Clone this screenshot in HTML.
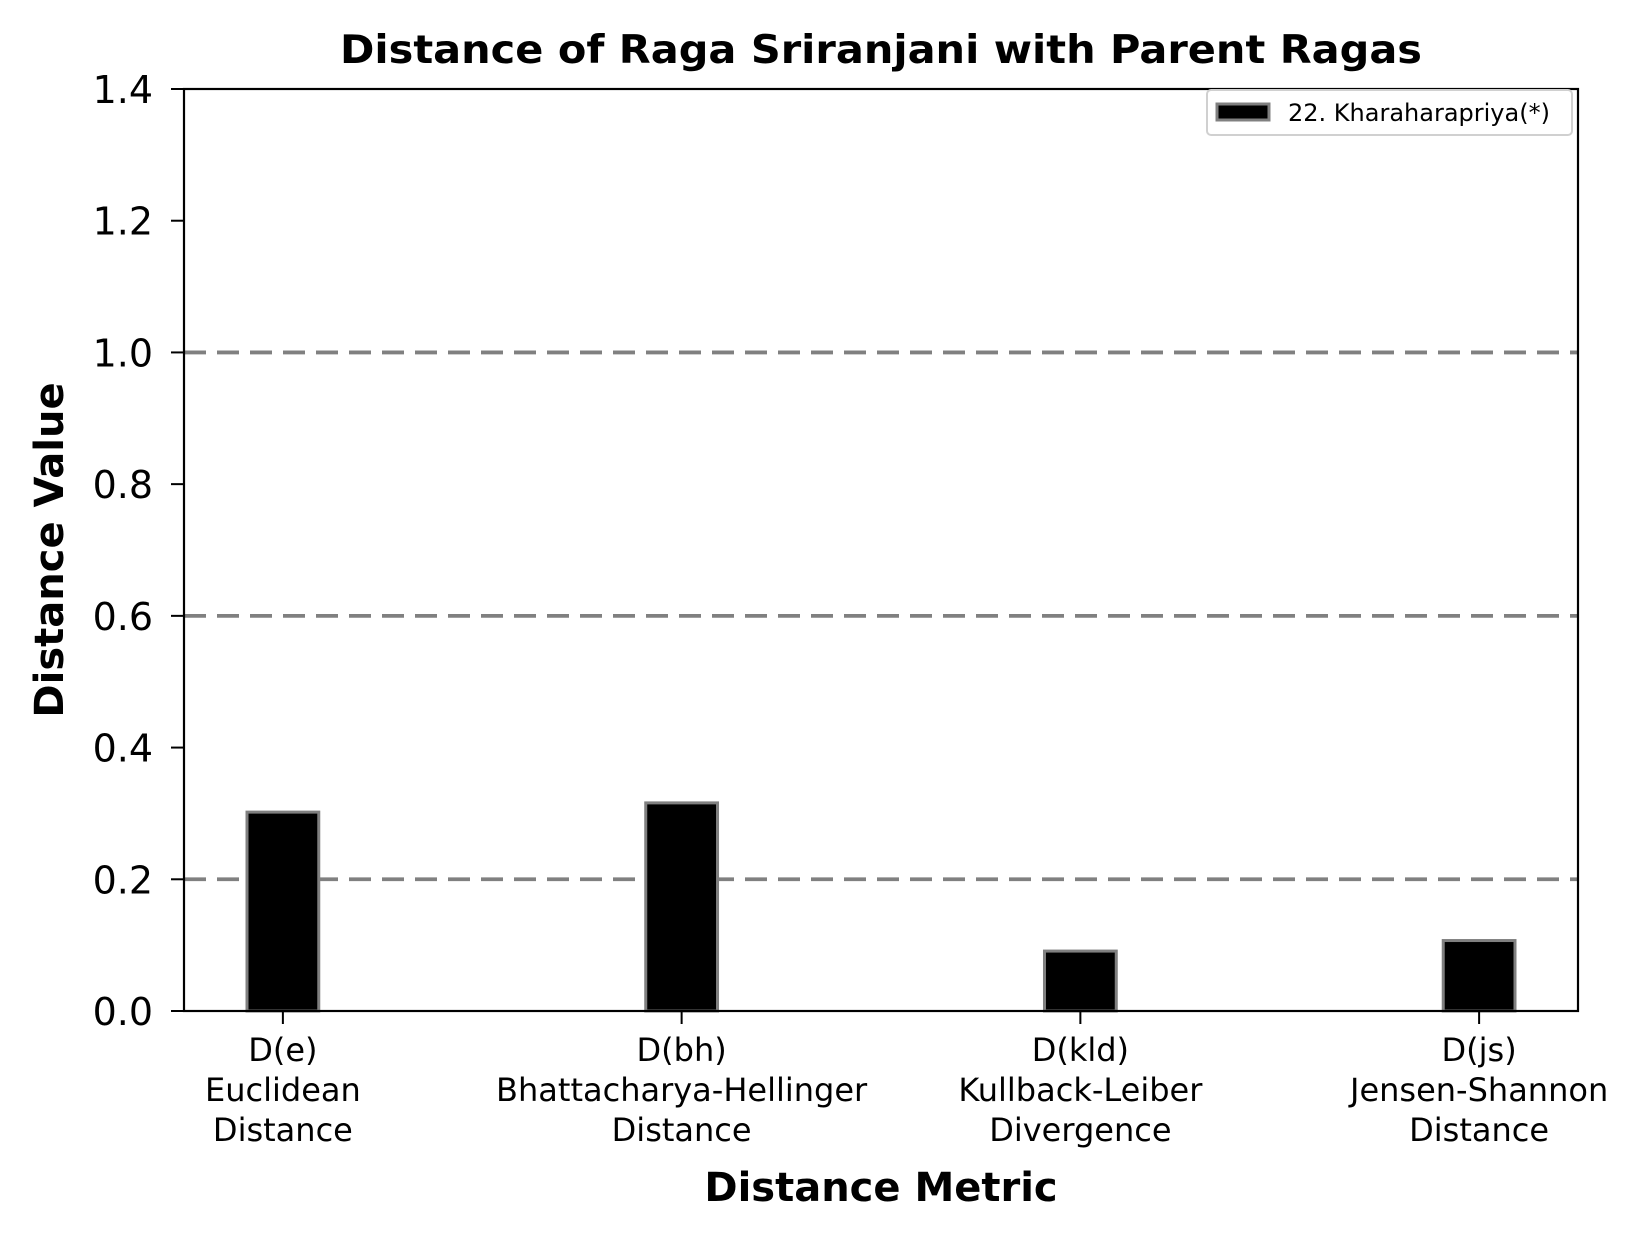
<!DOCTYPE html>
<html><head><meta charset="utf-8"><style>
body{margin:0;background:#fff}
svg text{font-family:"DejaVu Sans","Liberation Sans",sans-serif}
</style></head><body>
<svg id="chart" width="1644" height="1239" viewBox="0 0 1644 1239" xmlns="http://www.w3.org/2000/svg">
<rect width="1644" height="1239" fill="#fff"/>
<text x="881" y="63" font-size="39" font-weight="bold" text-anchor="middle" textLength="1082" lengthAdjust="spacingAndGlyphs">Distance of Raga Sriranjani with Parent Ragas</text>
<g id="grid"></g><g id="bars"></g><g id="axes"></g>
<text transform="translate(63,550) rotate(-90)" font-size="40" font-weight="bold" text-anchor="middle">Distance Value</text>
<text x="881" y="1201" font-size="40" font-weight="bold" text-anchor="middle">Distance Metric</text>
<g>
<rect x="1207" y="90" width="365" height="45" rx="4" fill="#fff" stroke="#d0d0d0" stroke-width="2"/>
<rect x="1217" y="104" width="52" height="16" fill="#000" stroke="#808080" stroke-width="3"/>
<text x="1288" y="121" font-size="24">22. Kharaharapriya(*)</text>
</g>
</svg>
<script>
const categories=["D(e)","D(bh)","D(kld)","D(js)"];
const catLine2=["Euclidean","Bhattacharya-Hellinger","Kullback-Leiber","Jensen-Shannon"];
const catLine3=["Distance","Distance","Divergence","Distance"];
const values=[0.302,0.316,0.091,0.107];
const yTicks=[0,0.2,0.4,0.6,0.8,1.0,1.2,1.4];
const yTickLabels=["0.0","0.2","0.4","0.6","0.8","1.0","1.2","1.4"];
const refLines=[0.2,0.6,1.0];
const NS="http://www.w3.org/2000/svg";
const L=184,R=1578,T=89,B=1011;
const xmin=-0.248,xmax=3.248,ymin=0,ymax=1.4,barW=0.18;
const xs=v=>L+(v-xmin)/(xmax-xmin)*(R-L);
const ys=v=>B-(v-ymin)/(ymax-ymin)*(B-T);
function mk(tag,attrs,parent,txt){const e=document.createElementNS(NS,tag);for(const k in attrs)e.setAttribute(k,attrs[k]);if(txt!==undefined)e.textContent=txt;parent.appendChild(e);return e;}
const grid=document.getElementById('grid'),bars=document.getElementById('bars'),axes=document.getElementById('axes');
refLines.forEach(v=>{const l=mk('line',{x1:L,x2:R,y1:ys(v),y2:ys(v),stroke:'#808080','stroke-width':3.8,'stroke-dasharray':'22 11'},grid);

});
values.forEach((v,i)=>{const x0=xs(i-barW/2),x1=xs(i+barW/2);
const r=mk('rect',{x:x0,y:ys(v),width:x1-x0,height:ys(0)-ys(v),fill:'#000',stroke:'#808080','stroke-width':3},bars);

});
const fr=mk('rect',{x:L,y:T,width:R-L,height:B-T,fill:'none',stroke:'#000','stroke-width':2.2},axes);


yTicks.forEach((v,i)=>{mk('line',{x1:L-13,x2:L,y1:ys(v),y2:ys(v),stroke:'#000','stroke-width':2},axes);
const t=mk('text',{x:L-31,y:ys(v)+14,'font-size':38,'text-anchor':'end'},axes,yTickLabels[i]);

});
categories.forEach((c,i)=>{const x=xs(i);mk('line',{x1:x,x2:x,y1:B,y2:B+13,stroke:'#000','stroke-width':2},axes);
[c,catLine2[i],catLine3[i]].forEach((s,j)=>{const t=mk('text',{x:x,y:1061+j*40,'font-size':32,'text-anchor':'middle'},axes,s);

});});
</script>
</body></html>
